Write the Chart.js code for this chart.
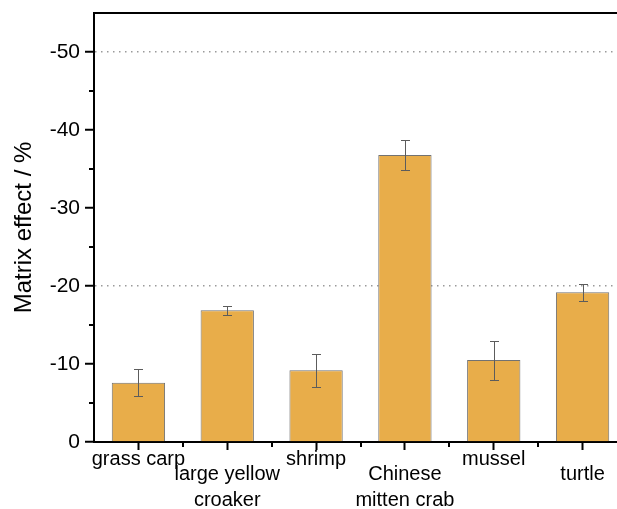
<!DOCTYPE html>
<html>
<head>
<meta charset="utf-8">
<script src="https://cdn.jsdelivr.net/npm/chart.js@4/dist/chart.umd.min.js"></script>
<style>
    html, body { margin: 0; padding: 0; overflow: hidden; background: #fff; }
</style>
</head>
<body>
<canvas id="mainChart" width="640" height="509"></canvas>
<script>
// sample names (two-line ones are staggered lower, like the original plot)
const categories = [
    'grass carp',
    ['large yellow', 'croaker'],
    'shrimp',
    ['Chinese', 'mitten crab'],
    'mussel',
    'turtle'
]
const matrixEffect = [-7.6, -16.9, -9.2, -36.8, -10.5, -19.2]
const errors = [1.7, 0.6, 2.1, 1.9, 2.5, 1.1]
const refLines = [-20, -50]

const staggered = (i) => i % 2 === 1

// odd labels get an empty first line so they sit below their neighbours
const labels = categories.map((c, i) => {
    let lines = Array.isArray(c) ? c : [c]
    return staggered(i) ? ['', ...lines] : lines
})

Chart.defaults.font.family = "'Liberation Sans', Arial, sans-serif"
Chart.defaults.color = '#000'

// error bars, minor ticks and the top frame line
const extras = {
    id: 'extras',
    afterDatasetsDraw(chart) {
        const { ctx, scales: { x, y } } = chart
        ctx.save()
        ctx.strokeStyle = '#5c5c5c'
        ctx.lineWidth = 1
        matrixEffect.forEach((v, i) => {
            let px = Math.round(x.getPixelForValue(i)) + 0.5
            let top = Math.round(y.getPixelForValue(v - errors[i])) + 0.5
            let bot = Math.round(y.getPixelForValue(v + errors[i])) + 0.5
            ctx.beginPath()
            ctx.moveTo(px, top); ctx.lineTo(px, bot)
            ctx.moveTo(px - 4.5, top); ctx.lineTo(px + 4.5, top)
            ctx.moveTo(px - 4.5, bot); ctx.lineTo(px + 4.5, bot)
            ctx.stroke()
        })
        ctx.restore()
    },
    afterDraw(chart) {
        const { ctx, chartArea, scales: { x, y } } = chart
        ctx.save()
        ctx.strokeStyle = '#000'
        ctx.lineWidth = 2

        // minor y ticks halfway between the major ones
        let yt = y.ticks
        for (let i = 0; i < yt.length - 1; i++) {
            let py = Math.round(y.getPixelForValue((yt[i].value + yt[i + 1].value) / 2))
            ctx.beginPath()
            ctx.moveTo(chartArea.left - 5, py)
            ctx.lineTo(chartArea.left, py)
            ctx.stroke()
        }

        // minor x ticks on category boundaries
        for (let i = 0; i < categories.length - 1; i++) {
            let px = Math.round(x.getPixelForValue(i + 0.5))
            ctx.beginPath()
            ctx.moveTo(px, chartArea.bottom)
            ctx.lineTo(px, chartArea.bottom + 5)
            ctx.stroke()
        }

        // top frame
        ctx.beginPath()
        ctx.moveTo(chartArea.left - 1, chartArea.top)
        ctx.lineTo(chartArea.right, chartArea.top)
        ctx.stroke()
        ctx.restore()
    }
}

new Chart(document.getElementById('mainChart'), {
    type: 'bar',
    data: {
        labels: labels,
        datasets: [{
            data: matrixEffect,
            backgroundColor: '#E8AD4A',
            borderColor: '#727272',
            borderWidth: 1,
            barPercentage: 0.6,
            categoryPercentage: 1.0
        }]
    },
    options: {
        responsive: false,
        animation: false,
        devicePixelRatio: 1,
        layout: {
            padding: { top: 13, right: 13, left: 0, bottom: 0 }
        },
        plugins: {
            legend: { display: false },
            tooltip: { enabled: false }
        },
        scales: {
            x: {
                grid: {
                    display: true,
                    drawOnChartArea: false,
                    offset: false,
                    tickLength: 8,
                    tickWidth: 2,
                    tickColor: '#000'
                },
                border: { color: '#000', width: 2 },
                ticks: {
                    autoSkip: false,
                    maxRotation: 0,
                    minRotation: 0,
                    padding: -13,
                    font: (c) => ({
                        size: 20,
                        lineHeight: staggered(c.index) ? '25.3px' : '45.9px'
                    })
                },
                afterFit: (scale) => {
                    scale.height = 67
                    scale.paddingLeft = 0
                    scale.paddingRight = 0
                }
            },
            y: {
                min: -55,
                max: 0,
                reverse: true,
                grid: {
                    color: (c) => (c.tick && refLines.includes(c.tick.value)) ? '#9a9a9a' : 'rgba(0,0,0,0)',
                    lineWidth: 1.5,
                    tickLength: 9,
                    tickWidth: 2,
                    tickColor: '#000',
                    tickBorderDash: []
                },
                border: { color: '#000', width: 2, dash: [1.5, 4.5] },
                ticks: {
                    stepSize: 10,
                    includeBounds: false,
                    padding: 5,
                    font: { size: 21 },
                    callback: (v) => String(v)
                },
                title: {
                    display: true,
                    text: 'Matrix effect / %',
                    font: { size: 24 },
                    padding: { top: 10, bottom: 0 }
                },
                afterFit: (scale) => {
                    scale.width = 94
                    scale.paddingTop = 0
                    scale.paddingBottom = 0
                }
            }
        }
    },
    plugins: [extras]
})
</script>
</body>
</html>
